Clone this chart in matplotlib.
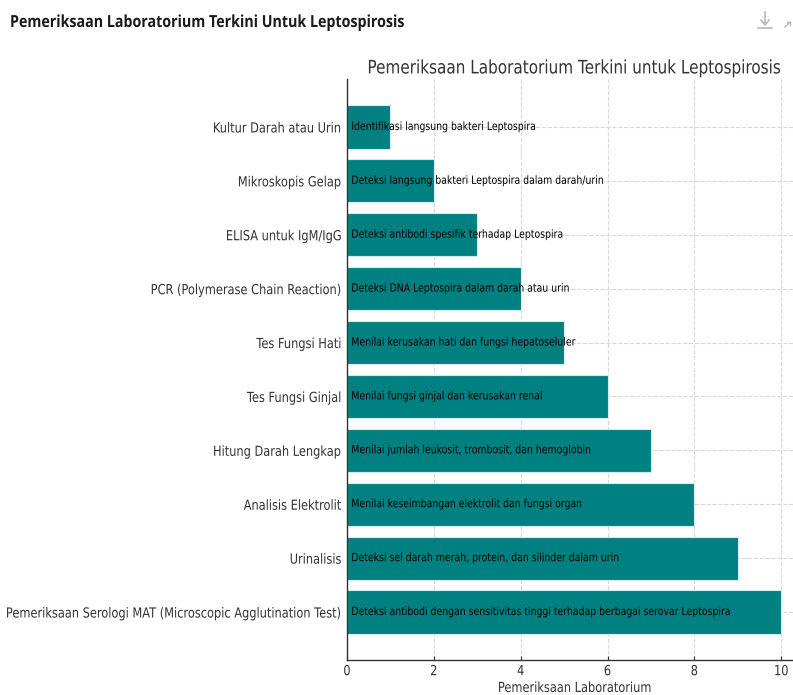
import matplotlib
matplotlib.use("Agg")
import matplotlib.pyplot as plt
from matplotlib.lines import Line2D
from matplotlib.patheffects import AbstractPathEffect
from matplotlib.transforms import Affine2D

categories = [
    "Kultur Darah atau Urin",
    "Mikroskopis Gelap",
    "ELISA untuk IgM/IgG",
    "PCR (Polymerase Chain Reaction)",
    "Tes Fungsi Hati",
    "Tes Fungsi Ginjal",
    "Hitung Darah Lengkap",
    "Analisis Elektrolit",
    "Urinalisis",
    "Pemeriksaan Serologi MAT (Microscopic Agglutination Test)",
]
values = [1, 2, 3, 4, 5, 6, 7, 8, 9, 10]
descriptions = [
    "Identifikasi langsung bakteri Leptospira",
    "Deteksi langsung bakteri Leptospira dalam darah/urin",
    "Deteksi antibodi spesifik terhadap Leptospira",
    "Deteksi DNA Leptospira dalam darah atau urin",
    "Menilai kerusakan hati dan fungsi hepatoseluler",
    "Menilai fungsi ginjal dan kerusakan renal",
    "Menilai jumlah leukosit, trombosit, dan hemoglobin",
    "Menilai keseimbangan elektrolit dan fungsi organ",
    "Deteksi sel darah merah, protein, dan silinder dalam urin",
    "Deteksi antibodi dengan sensitivitas tinggi terhadap berbagai serovar Leptospira",
]
xticks = [0, 2, 4, 6, 8, 10]
chart_title = "Pemeriksaan Laboratorium Terkini untuk Leptospirosis"
header = "Pemeriksaan Laboratorium Terkini Untuk Leptospirosis"
xlabel = "Pemeriksaan Laboratorium"

plt.rcParams["font.family"] = ["DejaVu Sans"]


class Squeeze(AbstractPathEffect):
    """Draw text horizontally condensed (the reference is a squeezed screenshot)."""

    def __init__(self, sx=0.82, align="left"):
        super().__init__()
        self.sx = sx
        self.frac = {"left": 0.0, "center": 0.5, "right": 1.0}[align]

    def draw_path(self, renderer, gc, tpath, affine, rgbFace=None):
        ext = tpath.get_extents()
        w = ext.x1
        pre = Affine2D().scale(self.sx, 1.0).translate((1 - self.sx) * w * self.frac, 0)
        renderer.draw_path(gc, tpath, pre + affine, rgbFace)


SX = 0.82
W, H = 793, 695
fig = plt.figure(figsize=(W / 100, H / 100), dpi=100)
fig.patch.set_facecolor("white")

ax = fig.add_axes([347 / W, (H - 660) / H, (803 - 347) / W, (660 - 79) / H])
ypos = list(range(len(categories)))
ax.barh(ypos, values, height=0.8, color="#008080", edgecolor="#d5ecec", linewidth=0.8, zorder=2)
ax.set_yticks(ypos)
ax.set_yticklabels(categories, fontsize=10, color="#333333")
ax.invert_yaxis()
ax.set_xticks(xticks)
ax.set_xticklabels([str(t) for t in xticks], fontsize=10, color="#333333")
ax.set_xlim(0, 10.5)
ax.tick_params(axis="y", direction="in", length=3, color="#333333", pad=4)
ax.tick_params(axis="x", direction="in", length=3, color="#333333", pad=3)
ax.grid(True, linestyle="--", color="#d8d8d8", linewidth=0.8, zorder=0)
ax.set_axisbelow(True)
for s in ["top", "right"]:
    ax.spines[s].set_visible(False)
for s in ["left", "bottom"]:
    ax.spines[s].set_color("#333333")
    ax.spines[s].set_linewidth(1.0)

for lbl in ax.get_yticklabels():
    lbl.set_path_effects([Squeeze(SX, "right")])
for lbl in ax.get_xticklabels():
    lbl.set_path_effects([Squeeze(SX, "center")])

for y, d in zip(ypos, descriptions):
    ax.text(0.1, y, d, va="center", ha="left", fontsize=8.2, color="black", zorder=3,
            path_effects=[Squeeze(SX, "left")])

t = ax.set_title(chart_title, fontsize=13.4, color="#333333", pad=4)
t.set_path_effects([Squeeze(SX, "center")])
xl = ax.set_xlabel(xlabel, fontsize=10, color="#333333", labelpad=2)
xl.set_path_effects([Squeeze(SX, "center")])

fig.text(10 / W, 1 - 22 / H, header, fontsize=12, fontweight="bold", color="#1a1a1a",
         va="center", ha="left", family=["Open Sans", "DejaVu Sans"],
         path_effects=[Squeeze(0.855, "left")])


def fx(x):
    return x / W


def fy(y):
    return 1 - y / H


ic = "#b8b8b8"
fig.add_artist(Line2D([fx(765), fx(765)], [fy(12), fy(24)], color=ic, lw=1.2))
fig.add_artist(Line2D([fx(761), fx(765), fx(769)], [fy(20), fy(25), fy(20)], color=ic, lw=1.2))
fig.add_artist(Line2D([fx(758), fx(772)], [fy(28), fy(28)], color=ic, lw=1.2))
fig.add_artist(Line2D([fx(785), fx(790)], [fy(27), fy(22)], color=ic, lw=1.0))
fig.add_artist(Line2D([fx(787), fx(790), fx(790)], [fy(22), fy(22), fy(25)], color=ic, lw=1.0))

fig.savefig("out.png", dpi=100)
